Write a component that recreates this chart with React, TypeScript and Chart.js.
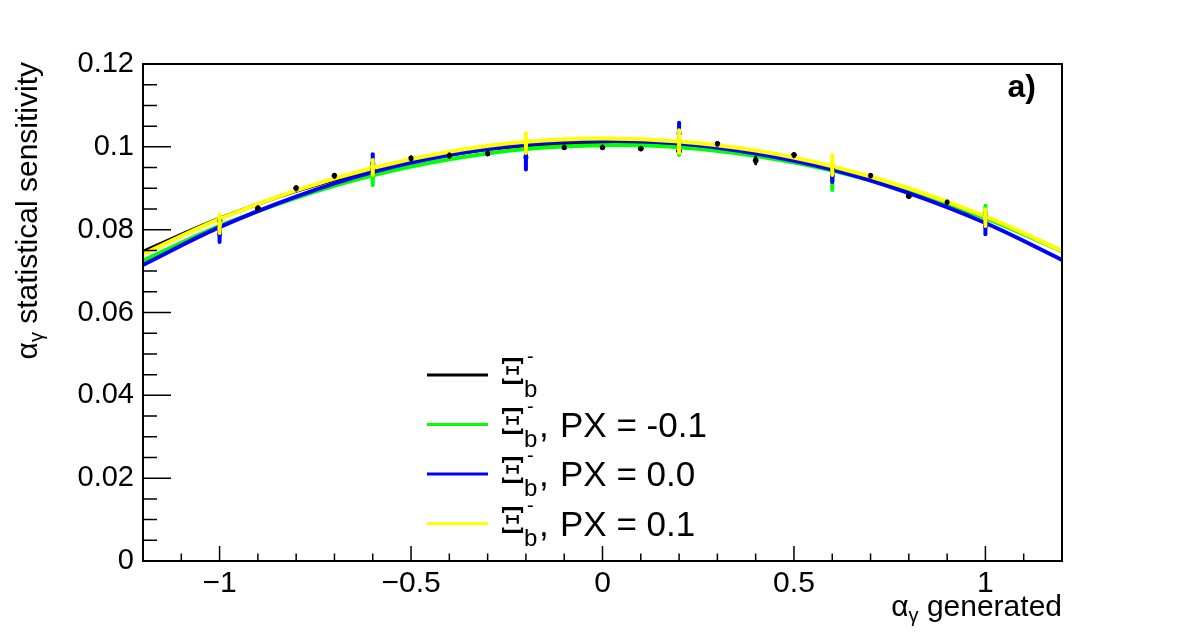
import React, { useEffect, useRef } from "react";
import { Chart, registerables } from "chart.js";

Chart.register(...registerables);

// ---------- data ----------
const curveX = [-1.2, -1.0, -0.8, -0.6, -0.4, -0.2, 0, 0.2, 0.4, 0.6, 0.8, 1.0, 1.2];
const blackCurve = [0.0747, 0.0827, 0.0893, 0.0944, 0.0981, 0.1003, 0.101, 0.1003, 0.0982, 0.0945, 0.0894, 0.0829, 0.0749];
const greenCurve = [0.0725, 0.0809, 0.0877, 0.0931, 0.097, 0.0995, 0.1004, 0.0999, 0.0978, 0.0943, 0.0893, 0.0828, 0.0748];
const blueCurve = [0.0715, 0.0806, 0.088, 0.0939, 0.098, 0.1006, 0.1015, 0.1008, 0.0984, 0.0945, 0.0888, 0.0816, 0.0727];
const yellowCurve = [0.0741, 0.0826, 0.0895, 0.0949, 0.0988, 0.1012, 0.102, 0.1013, 0.0991, 0.0953, 0.09, 0.0832, 0.0749];

const blackPointX = [-1.0, -0.9, -0.8, -0.7, -0.6, -0.5, -0.4, -0.3, -0.2, -0.1, 0, 0.1, 0.2, 0.3, 0.4, 0.5, 0.6, 0.7, 0.8, 0.9, 1.0];
const blackPoints = [0.0822, 0.0852, 0.09, 0.093, 0.0945, 0.0972, 0.0979, 0.0984, 0.1002, 0.0999, 0.0999, 0.0996, 0.099, 0.1007, 0.0967, 0.098, 0.0945, 0.093, 0.0881, 0.0866, 0.083];
const blackErrors = [0.0005, 0.0004, 0.0004, 0.0004, 0.0005, 0.0004, 0.0004, 0.0003, 0.0005, 0.0003, 0.0003, 0.0003, 0.0005, 0.0003, 0.0008, 0.0004, 0.0005, 0.0003, 0.0003, 0.0003, 0.0005];

const colorPointX = [-1.0, -0.6, -0.2, 0.2, 0.6, 1.0];
const greenPoints = [0.0802, 0.093, 0.0995, 0.1, 0.092, 0.084];
const greenErrors = [0.0018, 0.0022, 0.0018, 0.002, 0.0024, 0.0018];
const bluePoints = [0.079, 0.096, 0.0975, 0.1033, 0.093, 0.0809];
const blueErrors = [0.002, 0.0022, 0.003, 0.0025, 0.0015, 0.002];
const yellowPoints = [0.0814, 0.095, 0.1009, 0.1013, 0.0956, 0.0829];
const yellowErrors = [0.0022, 0.0018, 0.0024, 0.0027, 0.0024, 0.002];

const xMajorTicks = [-1, -0.5, 0, 0.5, 1];
const xMinorTicks = [-1.1, -0.9, -0.8, -0.7, -0.6, -0.4, -0.3, -0.2, -0.1, 0.1, 0.2, 0.3, 0.4, 0.6, 0.7, 0.8, 0.9, 1.1];
const yMajorTicks = [0, 0.02, 0.04, 0.06, 0.08, 0.1, 0.12];
const yMinorTicks = [0.005, 0.01, 0.015, 0.025, 0.03, 0.035, 0.045, 0.05, 0.055, 0.065, 0.07, 0.075, 0.085, 0.09, 0.095, 0.105, 0.11, 0.115];

const seriesColors = ["#000000", "#00ff00", "#0000ff", "#ffff00"];
const legendSuffix = ["", "PX = -0.1", "PX = 0.0", "PX = 0.1"];

const FONT = '"Liberation Sans", Arial, Helvetica, sans-serif';

const pts = (xs: number[], ys: number[]) => xs.map((x, i) => ({ x, y: ys[i] }));

const errorSets = [
  { xs: blackPointX, ys: blackPoints, es: blackErrors, color: seriesColors[0], w: 3 },
  { xs: colorPointX, ys: greenPoints, es: greenErrors, color: seriesColors[1], w: 4 },
  { xs: colorPointX, ys: bluePoints, es: blueErrors, color: seriesColors[2], w: 4 },
  { xs: colorPointX, ys: yellowPoints, es: yellowErrors, color: seriesColors[3], w: 4 },
];

const rootPlugin = {
  id: "rootStyle",
  afterDatasetsDraw(chart: any) {
    const ctx = chart.ctx;
    const xs = chart.scales.x;
    const ys = chart.scales.y;
    ctx.save();
    ctx.lineCap = "round";
    for (const s of errorSets) {
      ctx.strokeStyle = s.color;
      ctx.fillStyle = s.color;
      ctx.lineWidth = s.w;
      s.xs.forEach((xv: number, i: number) => {
        const px = xs.getPixelForValue(xv);
        const y1 = ys.getPixelForValue(s.ys[i] - s.es[i]);
        const y2 = ys.getPixelForValue(s.ys[i] + s.es[i]);
        ctx.beginPath();
        ctx.moveTo(px, y1);
        ctx.lineTo(px, y2);
        ctx.stroke();
        ctx.beginPath();
        ctx.arc(px, ys.getPixelForValue(s.ys[i]), 2.5, 0, Math.PI * 2);
        ctx.fill();
      });
    }
    ctx.restore();
  },
  afterDraw(chart: any) {
    const ctx = chart.ctx;
    const { left, right, top, bottom } = chart.chartArea;
    const xs = chart.scales.x;
    const ys = chart.scales.y;
    ctx.save();
    // ticks
    ctx.strokeStyle = "#000";
    ctx.lineWidth = 1.5;
    ctx.beginPath();
    for (const v of yMajorTicks) {
      const y = ys.getPixelForValue(v);
      ctx.moveTo(left, y);
      ctx.lineTo(left + 28, y);
    }
    for (const v of yMinorTicks) {
      const y = ys.getPixelForValue(v);
      ctx.moveTo(left, y);
      ctx.lineTo(left + 14, y);
    }
    for (const v of xMajorTicks) {
      const x = xs.getPixelForValue(v);
      ctx.moveTo(x, bottom);
      ctx.lineTo(x, bottom - 15);
    }
    for (const v of xMinorTicks) {
      const x = xs.getPixelForValue(v);
      ctx.moveTo(x, bottom);
      ctx.lineTo(x, bottom - 7.5);
    }
    ctx.stroke();
    // frame
    ctx.lineWidth = 2;
    ctx.strokeRect(left, top, right - left, bottom - top);

    ctx.fillStyle = "#000";
    ctx.textAlign = "left";
    ctx.textBaseline = "alphabetic";

    const bigF = `30px ${FONT}`;
    const smallF = `20px ${FONT}`;

    // y title (rotated)
    ctx.save();
    ctx.translate(37, 62);
    ctx.rotate(-Math.PI / 2);
    ctx.font = bigF;
    const wA = ctx.measureText("α").width;
    const rest = " statistical sensitivity";
    const wR = ctx.measureText(rest).width;
    ctx.font = smallF;
    const wG = ctx.measureText("γ").width;
    let cx = -(wA + wG + wR);
    ctx.font = bigF;
    ctx.fillText("α", cx, 0);
    cx += wA;
    ctx.font = smallF;
    ctx.fillText("γ", cx, 6);
    cx += wG;
    ctx.font = bigF;
    ctx.fillText(rest, cx, 0);
    ctx.restore();

    // x title
    {
      const rest2 = " generated";
      ctx.font = bigF;
      const a = ctx.measureText("α").width;
      const r = ctx.measureText(rest2).width;
      ctx.font = smallF;
      const g = ctx.measureText("γ").width;
      let x = right - (a + g + r);
      const base = 616;
      ctx.font = bigF;
      ctx.fillText("α", x, base);
      x += a;
      ctx.font = smallF;
      ctx.fillText("γ", x, base + 6);
      x += g;
      ctx.font = bigF;
      ctx.fillText(rest2, x, base);
    }

    // label a)
    ctx.font = `bold 32px ${FONT}`;
    ctx.textAlign = "right";
    ctx.fillText("a)", 1036, 97);
    ctx.textAlign = "left";

    // legend
    const rows = [375, 424.5, 474, 523.5];
    rows.forEach((ly, i) => {
      ctx.strokeStyle = seriesColors[i];
      ctx.lineWidth = 3;
      ctx.beginPath();
      ctx.moveTo(427, ly);
      ctx.lineTo(488, ly);
      ctx.stroke();
      ctx.fillStyle = "#000";
      ctx.font = `36px "DejaVu Serif", serif`;
      ctx.fillText("Ξ", 500, ly + 9);
      ctx.font = `24px ${FONT}`;
      ctx.fillText("b", 524, ly + 22);
      ctx.font = `20px ${FONT}`;
      ctx.fillText("-", 527, ly - 12);
      if (legendSuffix[i]) {
        ctx.font = `35px ${FONT}`;
        ctx.fillText(",", 539, ly + 12);
        ctx.fillText(legendSuffix[i], 560, ly + 12);
      }
    });
    ctx.restore();
  },
};

export default function App() {
  const ref = useRef<HTMLCanvasElement | null>(null);
  useEffect(() => {
    document.body.style.margin = "0";
    const canvas = ref.current;
    if (!canvas) return;
    const curveDs = (data: number[], color: string, w: number) => ({
      data: pts(curveX, data),
      borderColor: color,
      backgroundColor: color,
      borderWidth: w,
      pointRadius: 0,
      tension: 0.4,
      fill: false,
    });
    const chart = new Chart(canvas, {
      type: "line",
      data: {
        datasets: [
          curveDs(yellowCurve, seriesColors[3], 4),
          curveDs(blueCurve, seriesColors[2], 4),
          curveDs(greenCurve, seriesColors[1], 4),
          curveDs(blackCurve, seriesColors[0], 3.5),
          {
            data: pts(blackPointX, blackPoints),
            showLine: false,
            pointRadius: 2.5,
            pointBackgroundColor: "#000",
            pointBorderColor: "#000",
            borderColor: "#000",
          } as any,
        ],
      },
      options: {
        responsive: false,
        animation: false,
        devicePixelRatio: 1,
        layout: { padding: { top: 64, right: 120, left: 0, bottom: 0 } },
        plugins: { legend: { display: false }, tooltip: { enabled: false } },
        events: [],
        scales: {
          x: {
            type: "linear",
            min: -1.2,
            max: 1.2,
            afterFit: (s: any) => {
              s.height = 77;
            },
            afterBuildTicks: (s: any) => {
              s.ticks = xMajorTicks.map((v) => ({ value: v }));
            },
            grid: { display: false, drawTicks: false },
            border: { display: false },
            ticks: {
              autoSkip: false,
              maxRotation: 0,
              padding: 5,
              color: "#000",
              font: { family: FONT, size: 30 },
              callback: (v: any) => (Number(v) < 0 ? "\u2212" + String(Math.abs(Number(v))) : String(Number(v))),
            },
          },
          y: {
            type: "linear",
            min: 0,
            max: 0.12,
            afterFit: (s: any) => {
              s.width = 143;
            },
            afterBuildTicks: (s: any) => {
              s.ticks = yMajorTicks.map((v) => ({ value: v }));
            },
            grid: { display: false, drawTicks: false },
            border: { display: false },
            ticks: {
              autoSkip: false,
              padding: 9,
              color: "#000",
              font: { family: FONT, size: 29 },
              callback: (v: any) => String(Number(Number(v).toFixed(3))),
            },
          },
        },
      } as any,
      plugins: [rootPlugin],
    });
    return () => chart.destroy();
  }, []);
  return (
    <div style={{ width: 1182, height: 638, background: "#fff" }}>
      <canvas ref={ref} width={1182} height={638} />
    </div>
  );
}
